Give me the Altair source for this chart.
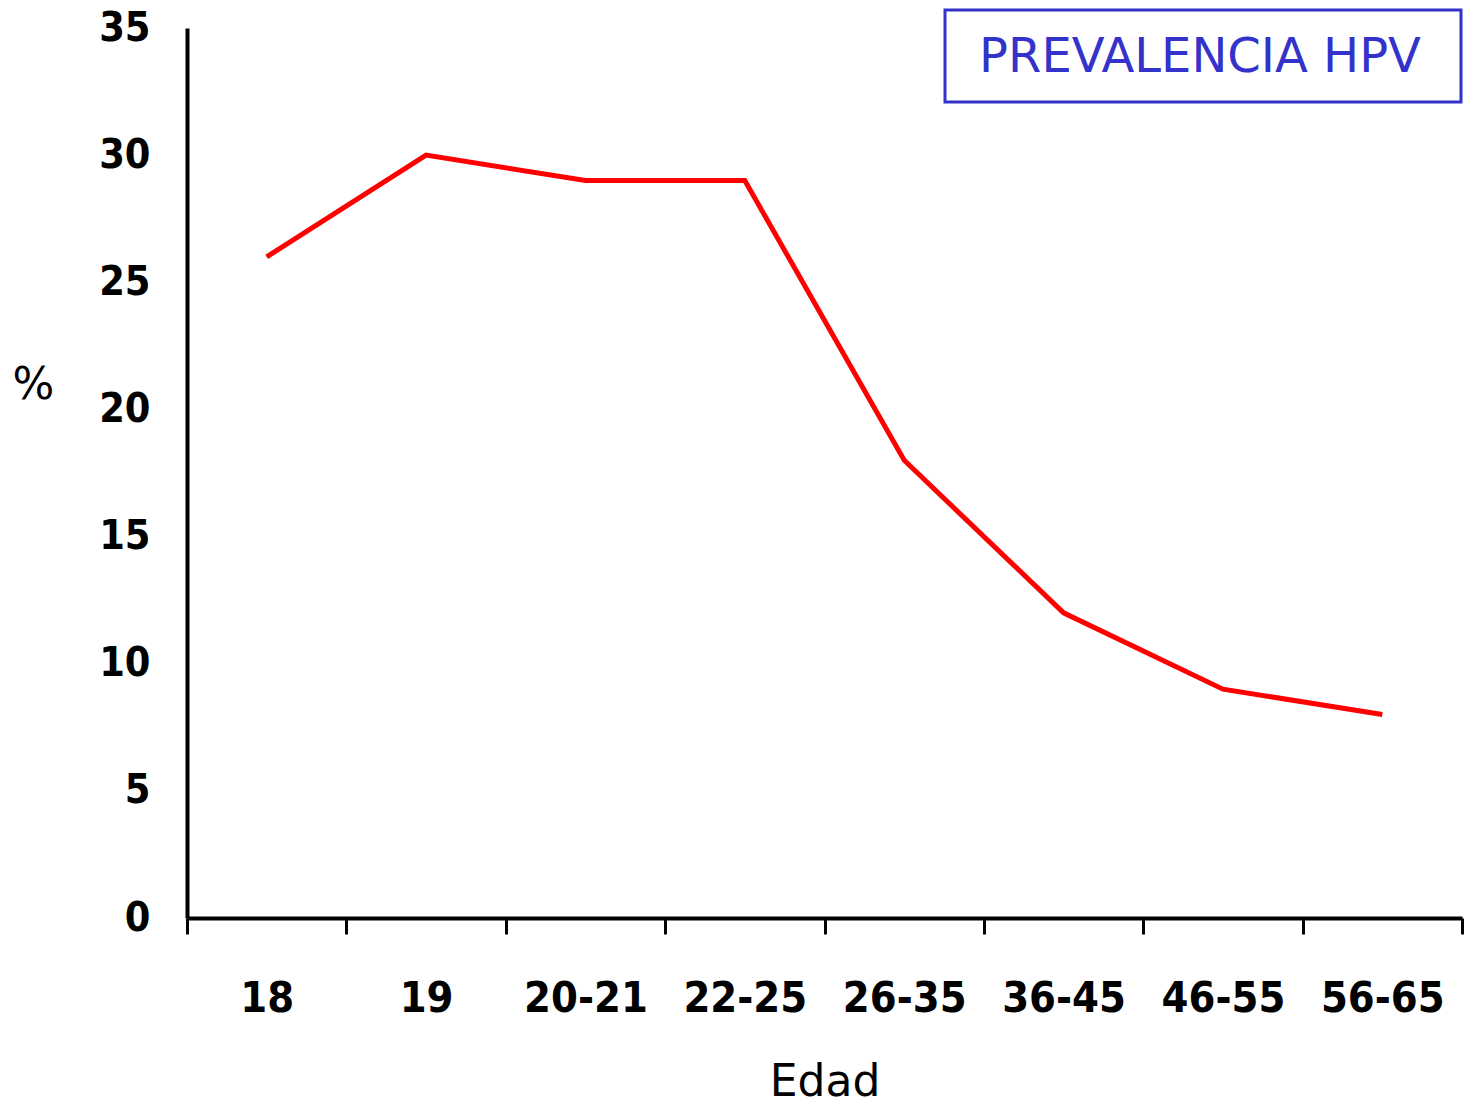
import altair as alt
import pandas as pd

# Age groups and HPV prevalence (%)
edades = ["18", "19", "20-21", "22-25", "26-35", "36-45", "46-55", "56-65"]
prevalencia = [26, 30, 29, 29, 18, 12, 9, 8]

df = pd.DataFrame({"Edad": edades, "Prevalencia": prevalencia})

W, H = 1275, 890
label_font = "DejaVu Sans Condensed, DejaVu Sans"
title_font = "DejaVu Sans"

line = alt.Chart(df).mark_line(color="#ff0000", strokeWidth=5).encode(
    x=alt.X(
        "Edad:N",
        sort=edades,
        scale=alt.Scale(paddingInner=0, paddingOuter=0),
        axis=alt.Axis(
            title="Edad",
            labelAngle=0,
            tickBand="extent",
            tickSize=16,
            tickWidth=3,
            tickColor="black",
            domainColor="black",
            domainWidth=4,
            labelFont=label_font,
            labelFontWeight="bold",
            labelFontSize=43,
            labelColor="black",
            labelPadding=43,
            titleFont=title_font,
            titleFontWeight="normal",
            titleFontSize=44,
            titleColor="black",
            titlePadding=40,
            grid=False,
        ),
    ),
    y=alt.Y(
        "Prevalencia:Q",
        scale=alt.Scale(domain=[0, 35], nice=False),
        axis=alt.Axis(
            title="%",
            values=[0, 5, 10, 15, 20, 25, 30, 35],
            ticks=False,
            domainColor="black",
            domainWidth=4,
            labelFont=label_font,
            labelFontWeight="bold",
            labelFontSize=41,
            labelColor="black",
            labelPadding=37,
            titleFont=title_font,
            titleFontWeight="normal",
            titleFontSize=44,
            titleColor="black",
            titleAngle=0,
            titleAlign="center",
            titleBaseline="middle",
            titleX=-154,
            titleY=357,
            grid=False,
        ),
    ),
)

# Legend-style caption box in the upper right corner
box = alt.Chart(pd.DataFrame({"t": ["PREVALENCIA HPV"]})).mark_rect(
    filled=False, stroke="#3333cc", strokeWidth=3
).encode(
    x=alt.value(758), x2=alt.value(1274), y=alt.value(-18), y2=alt.value(74)
)

caption = alt.Chart(pd.DataFrame({"t": ["PREVALENCIA HPV"]})).mark_text(
    font=title_font, fontSize=48, color="#3333cc", align="center", baseline="middle"
).encode(
    text="t:N", x=alt.value(1013), y=alt.value(30)
)

chart = (
    alt.layer(line, box, caption)
    .properties(
        width=W,
        height=H,
        autosize=alt.AutoSizeParams(type="none"),
        padding={"left": 187, "top": 28, "right": 11, "bottom": 188},
        view=alt.ViewBackground(strokeWidth=0, strokeOpacity=0),
    )
    .configure_view(strokeWidth=0, strokeOpacity=0, clip=False)
    .configure(background="white")
)

chart.save("out.html", embed_options={"renderer": "svg", "actions": False})
